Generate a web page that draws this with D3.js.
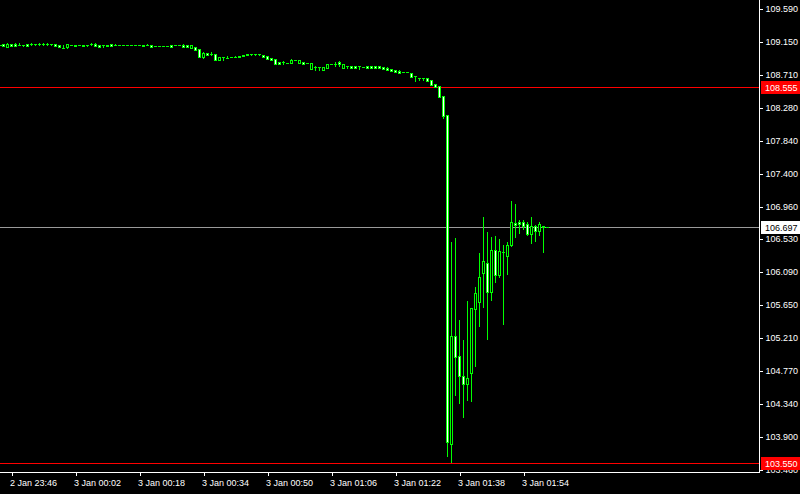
<!DOCTYPE html>
<html>
<head>
<meta charset="utf-8">
<style>
       body {
              margin: 0;
              background: #000;
              font-family: "Liberation Sans", Arial, sans-serif;
       }
       svg {
              display: block;
       }
       .axis text {
              fill: #fff;
              font-size: 9px;
              font-family: "Liberation Sans", Arial, sans-serif;
       }
       .axis path, .axis line {
              stroke: #fff;
              shape-rendering: crispEdges;
       }
       .wick, .body {
              fill: #00ff00;
       }
       .tag text {
              font-size: 9px;
       }
</style>
</head>
<body>
<script src="https://cdnjs.cloudflare.com/ajax/libs/d3/7.8.5/d3.min.js"></script>
<script>

     // 1 minute bars, 2 Jan 23:43 .. 3 Jan 02:00
     var startTime = new Date(2019, 0, 2, 23, 43);

     var open = [109.111, 109.125, 109.085, 109.125, 109.125, 109.111, 109.118, 109.125, 109.125, 109.125,
       109.125, 109.125, 109.125, 109.125, 109.125, 109.111, 109.078, 109.085, 109.105, 109.118,
       109.105, 109.118, 109.118, 109.125, 109.125, 109.111, 109.105, 109.098, 109.125, 109.118,
       109.105, 109.105, 109.105, 109.105, 109.105, 109.105, 109.118, 109.118, 109.105, 109.098,
       109.098, 109.098, 109.098, 109.111, 109.105, 109.105, 109.111, 109.111, 109.078, 109.085,
       109.058, 108.952, 109.005, 108.992, 108.992, 108.912, 108.952, 108.945, 108.952, 108.952,
       108.965, 108.978, 108.992, 108.992, 108.992, 108.992, 108.978, 108.965, 108.938, 108.925,
       108.885, 108.879, 108.872, 108.872, 108.912, 108.872, 108.885, 108.868, 108.792, 108.819,
       108.819, 108.779, 108.805, 108.855, 108.859, 108.885, 108.805, 108.832, 108.832, 108.832,
       108.832, 108.819, 108.832, 108.832, 108.832, 108.832, 108.819, 108.805, 108.792, 108.779,
       108.766, 108.752, 108.752, 108.739, 108.699, 108.672, 108.672, 108.672, 108.646, 108.593,
       108.566, 108.433, 108.180, 103.805, 105.242, 104.975, 104.710, 104.603, 104.750, 105.601,
       105.694, 106.079, 106.212, 105.827, 106.385, 106.053, 106.359, 106.305, 106.452, 106.744,
       106.758, 106.758, 106.731, 106.598, 106.704, 106.638, 106.704, 106.697];

     var high = [109.111, 109.125, 109.138, 109.125, 109.138, 109.138, 109.118, 109.125, 109.138, 109.125,
       109.138, 109.138, 109.138, 109.125, 109.125, 109.111, 109.111, 109.125, 109.105, 109.118,
       109.105, 109.118, 109.118, 109.138, 109.138, 109.111, 109.105, 109.118, 109.125, 109.131,
       109.105, 109.105, 109.105, 109.105, 109.105, 109.105, 109.118, 109.131, 109.105, 109.098,
       109.098, 109.098, 109.098, 109.111, 109.105, 109.105, 109.125, 109.111, 109.111, 109.085,
       109.058, 109.018, 109.005, 109.018, 108.992, 108.952, 108.952, 108.965, 108.952, 108.965,
       108.965, 108.978, 108.992, 108.992, 108.992, 108.992, 108.978, 108.965, 108.938, 108.925,
       108.885, 108.899, 108.872, 108.925, 108.912, 108.912, 108.885, 108.868, 108.872, 108.832,
       108.819, 108.819, 108.859, 108.855, 108.885, 108.899, 108.859, 108.832, 108.832, 108.832,
       108.832, 108.819, 108.832, 108.832, 108.832, 108.832, 108.819, 108.819, 108.792, 108.779,
       108.779, 108.752, 108.752, 108.739, 108.699, 108.672, 108.672, 108.672, 108.646, 108.593,
       108.566, 108.433, 108.180, 106.492, 106.546, 105.454, 105.188, 105.707, 105.618, 105.893,
       106.345, 106.824, 106.625, 106.558, 106.571, 106.531, 106.452, 106.492, 107.041, 106.997,
       106.784, 106.784, 106.758, 106.824, 106.717, 106.758, 106.704, 106.697];

     var low = [109.098, 109.098, 109.085, 109.098, 109.098, 109.111, 109.098, 109.098, 109.111, 109.105,
       109.111, 109.111, 109.111, 109.105, 109.098, 109.085, 109.078, 109.071, 109.105, 109.098,
       109.105, 109.098, 109.098, 109.111, 109.098, 109.091, 109.085, 109.098, 109.098, 109.105,
       109.105, 109.105, 109.105, 109.105, 109.105, 109.105, 109.098, 109.105, 109.085, 109.098,
       109.098, 109.098, 109.098, 109.085, 109.105, 109.105, 109.091, 109.085, 109.078, 109.045,
       108.952, 108.945, 108.978, 108.978, 108.912, 108.912, 108.912, 108.945, 108.952, 108.952,
       108.952, 108.965, 108.978, 108.978, 108.978, 108.978, 108.952, 108.925, 108.912, 108.859,
       108.859, 108.859, 108.872, 108.872, 108.912, 108.872, 108.859, 108.868, 108.792, 108.779,
       108.779, 108.779, 108.805, 108.855, 108.832, 108.832, 108.805, 108.805, 108.805, 108.805,
       108.792, 108.819, 108.805, 108.805, 108.805, 108.805, 108.792, 108.779, 108.766, 108.752,
       108.739, 108.752, 108.752, 108.686, 108.633, 108.646, 108.646, 108.633, 108.579, 108.553,
       108.420, 108.141, 103.646, 103.570, 104.457, 104.351, 104.164, 104.390, 104.377, 104.843,
       105.375, 105.627, 105.202, 105.720, 105.960, 106.026, 105.401, 106.066, 106.438, 106.558,
       106.611, 106.664, 106.584, 106.478, 106.505, 106.584, 106.359, 106.697];

     var close = [109.111, 109.098, 109.125, 109.098, 109.098, 109.111, 109.118, 109.098, 109.125, 109.125,
       109.125, 109.125, 109.125, 109.125, 109.098, 109.085, 109.078, 109.125, 109.105, 109.098,
       109.105, 109.098, 109.118, 109.125, 109.098, 109.091, 109.105, 109.118, 109.098, 109.118,
       109.105, 109.105, 109.105, 109.105, 109.105, 109.105, 109.098, 109.118, 109.085, 109.098,
       109.098, 109.098, 109.098, 109.085, 109.105, 109.105, 109.091, 109.085, 109.111, 109.045,
       108.952, 109.005, 108.978, 108.992, 108.912, 108.952, 108.952, 108.945, 108.952, 108.952,
       108.952, 108.965, 108.978, 108.992, 108.992, 108.992, 108.952, 108.925, 108.912, 108.859,
       108.859, 108.879, 108.872, 108.912, 108.912, 108.912, 108.859, 108.868, 108.872, 108.819,
       108.819, 108.819, 108.859, 108.855, 108.859, 108.859, 108.859, 108.832, 108.805, 108.805,
       108.832, 108.819, 108.805, 108.805, 108.805, 108.805, 108.792, 108.779, 108.766, 108.752,
       108.739, 108.752, 108.752, 108.686, 108.699, 108.672, 108.672, 108.633, 108.579, 108.553,
       108.420, 108.167, 103.832, 105.242, 104.962, 104.710, 104.603, 104.684, 105.614, 105.813,
       106.026, 106.239, 105.827, 106.385, 106.053, 106.372, 106.359, 106.452, 106.758, 106.717,
       106.731, 106.704, 106.598, 106.704, 106.638, 106.731, 106.691, 106.697];

     var priceTicks = [109.590, 109.150, 108.710, 108.280, 107.840, 107.400, 106.960, 106.530,
       106.090, 105.650, 105.210, 104.770, 104.340, 103.900, 103.460];

     var timeTicks = ["2019-01-02 23:46", "2019-01-03 00:02", "2019-01-03 00:18", "2019-01-03 00:34",
       "2019-01-03 00:50", "2019-01-03 01:06", "2019-01-03 01:22", "2019-01-03 01:38", "2019-01-03 01:54"];

     // horizontal lines: value, line colour, tag background, tag text
     var levels = [
       {value: 108.555, color: "#ff0000", bg: "#ff0000", fg: "#ffffff"},
       {value: 106.697, color: "#9a9a9a", bg: "#ffffff", fg: "#000000"},
       {value: 103.550, color: "#ff0000", bg: "#ff0000", fg: "#ffffff"}
     ];

     var width = 800,
            height = 494,
            plotRight = 759,
            plotBottom = 472,
            barWidth = 3;

     var parseTime = d3.timeParse("%Y-%m-%d %H:%M");

     var bars = open.map(function(o, i) {
          return {t: d3.timeMinute.offset(startTime, i), o: o, h: high[i], l: low[i], c: close[i]};
     });

     var x = d3.scaleTime()
          .domain([bars[0].t, bars[bars.length - 1].t])
          .range([-1, -1 + 4 * (bars.length - 1)]);

     var y = d3.scaleLinear()
          .domain([103.433, 109.71])
          .range([plotBottom, 0]);

     function px(v) { return Math.round(y(v)); }

     var svg = d3.select("body").append("svg")
          .attr("width", width)
          .attr("height", height);

     svg.append("rect")
          .attr("width", width)
          .attr("height", height)
          .attr("fill", "#000");

     var plot = svg.append("g");

     // level lines, one pixel high
     plot.selectAll("rect.level")
          .data(levels)
        .enter().append("rect")
          .attr("class", "level")
          .attr("x", 0)
          .attr("width", plotRight)
          .attr("y", function(d) { return px(d.value); })
          .attr("height", 1)
          .attr("fill", function(d) { return d.color; });

     var candle = plot.selectAll("g.candle")
          .data(bars)
        .enter().append("g")
          .attr("class", "candle");

     candle.append("rect")
          .attr("class", "wick")
          .attr("x", function(d) { return Math.round(x(d.t)); })
          .attr("y", function(d) { return px(d.h); })
          .attr("width", 1)
          .attr("height", function(d) { return px(d.l) - px(d.h) + 1; });

     candle.append("rect")
          .attr("class", "body")
          .attr("x", function(d) { return Math.max(0, Math.round(x(d.t)) - 1); })
          .attr("y", function(d) { return px(Math.max(d.o, d.c)); })
          .attr("width", function(d) { return Math.round(x(d.t)) - 1 < 0 ? barWidth - 1 : barWidth; })
          .attr("height", function(d) { return px(Math.min(d.o, d.c)) - px(Math.max(d.o, d.c)) + 1; });

     // inside of the body: black for up bars, white for down bars
     candle.filter(function(d) { return px(Math.min(d.o, d.c)) - px(Math.max(d.o, d.c)) >= 2; })
        .append("rect")
          .attr("x", function(d) { return Math.round(x(d.t)); })
          .attr("y", function(d) { return px(Math.max(d.o, d.c)) + 1; })
          .attr("width", 1)
          .attr("height", function(d) { return px(Math.min(d.o, d.c)) - px(Math.max(d.o, d.c)) - 1; })
          .attr("fill", function(d) { return d.c > d.o ? "#000" : "#fff"; });

     // time axis
     var xAxis = d3.axisBottom(x)
          .tickValues(timeTicks.map(parseTime))
          .tickSize(3)
          .tickSizeOuter(0)
          .tickFormat(d3.timeFormat("%-d %b %H:%M"));

     var xAxisG = svg.append("g")
          .attr("class", "axis")
          .attr("transform", "translate(0.5," + (plotBottom + 0.5) + ")")
          .call(xAxis);

     xAxisG.select(".domain")
          .attr("d", "M-1,0H" + plotRight);

     xAxisG.selectAll("text")
          .attr("text-anchor", "start")
          .attr("x", -2)
          .attr("y", 13)
          .attr("dy", 0);

     // price axis
     var yAxis = d3.axisRight(y)
          .tickValues(priceTicks)
          .tickSize(3)
          .tickPadding(3)
          .tickSizeOuter(0)
          .tickFormat(d3.format(".3f"));

     var yAxisG = svg.append("g")
          .attr("class", "axis")
          .attr("transform", "translate(" + (plotRight + 0.5) + ",0)")
          .call(yAxis);

     yAxisG.selectAll(".tick")
          .attr("transform", function(d) { return "translate(0," + (px(d) + 0.5) + ")"; });

     yAxisG.select(".domain")
          .attr("d", "M0,0V" + (plotBottom + 1));

     // price tags for the level lines
     var tag = svg.selectAll("g.tag")
          .data(levels)
        .enter().append("g")
          .attr("class", "tag")
          .attr("transform", function(d) { return "translate(" + (plotRight + 2) + "," + px(d.value) + ")"; });

     tag.append("rect")
          .attr("x", 0)
          .attr("y", -6)
          .attr("width", width - plotRight - 2)
          .attr("height", 13)
          .attr("fill", function(d) { return d.bg; });

     tag.append("text")
          .attr("x", 4)
          .attr("y", 4)
          .attr("fill", function(d) { return d.fg; })
          .text(function(d) { return d3.format(".3f")(d.value); });

</script>
</body>
</html>
